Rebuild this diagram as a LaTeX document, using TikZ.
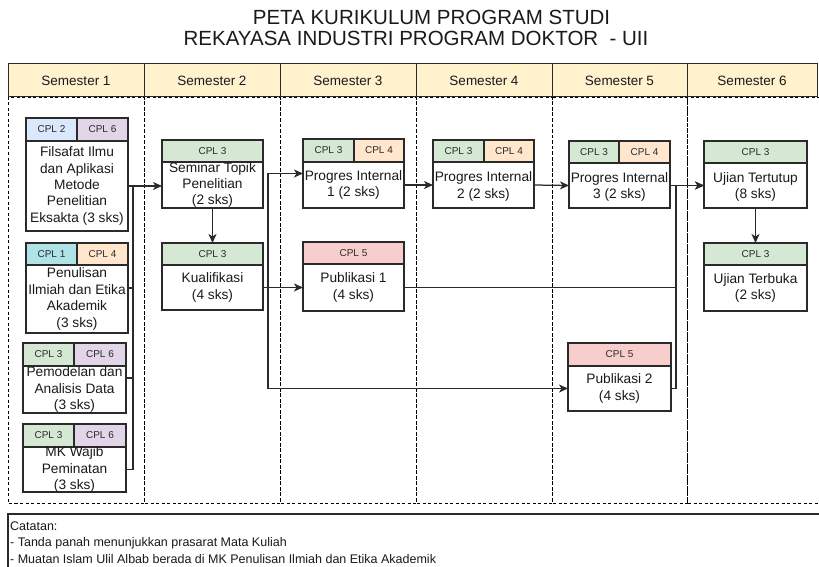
\documentclass[tikz,border=0pt]{standalone}
\usepackage{fontspec}
\setmainfont{Liberation Sans}
\usetikzlibrary{arrows.meta,calc}
\definecolor{hdr}{HTML}{FFF2CC}
\definecolor{cgreen}{HTML}{D5E8D4}
\definecolor{corange}{HTML}{FFE6CC}
\definecolor{cpurple}{HTML}{E1D5E7}
\definecolor{cblue}{HTML}{DAE8FC}
\definecolor{ccyan}{HTML}{B0E3E6}
\definecolor{cpink}{HTML}{F8CECC}
\definecolor{ink}{HTML}{1A1A1A}
\definecolor{edge}{HTML}{2A2A2A}
\tikzset{
  fullbox/.style={inner sep=0pt, outer sep=0pt, draw=none},
  bodybox/.style={inner sep=0pt, outer sep=0pt, draw=edge, line width=1.1pt, fill=white},
  hbox/.style={inner sep=0pt, outer sep=0pt, draw=edge, line width=1.1pt, text=edge,
    font=\fontsize{10}{12}\selectfont},
  btext/.style={inner sep=0pt, align=center, text=ink, font=\fontsize{13.7}{16.4}\selectfont},
  semh/.style={inner sep=0pt, outer sep=0pt, draw=edge, line width=1pt, fill=hdr, text=ink,
    font=\fontsize{13.5}{16}\selectfont},
  colbox/.style={draw=black, line width=0.9pt, dash pattern=on 3pt off 2.5pt},
  conn/.style={draw=edge, line width=1.25pt},
  arr/.style={conn, -{Stealth[length=9pt,width=8pt,inset=2.5pt]}},
  titletext/.style={inner sep=0pt, text=ink, font=\fontsize{20.5}{24}\selectfont},
  notetext/.style={inner sep=0pt, text=ink, font=\fontsize{12.5}{15}\selectfont},
}
% name, x1, x2, ytop, yhead, ybottom
\newcommand{\course}[6]{%
  \pgfmathsetmacro{\cxa}{(#2+#3)/2}%
  \pgfmathsetmacro{\cya}{(#4+#6)/2}%
  \pgfmathsetmacro{\cyb}{(#5+#6)/2}%
  \pgfmathsetmacro{\cww}{#3-#2}%
  \pgfmathsetmacro{\chf}{#6-#4}%
  \pgfmathsetmacro{\chb}{#6-#5}%
  \node[fullbox, minimum width=\cww pt, minimum height=\chf pt] (#1) at (\cxa,\cya) {};
  \node[bodybox, minimum width=\cww pt, minimum height=\chb pt] (#1b) at (\cxa,\cyb) {};
}
% name, x1, x2, ytop, ybottom, colour, label
\newcommand{\hcell}[7]{%
  \pgfmathsetmacro{\hxa}{(#2+#3)/2}%
  \pgfmathsetmacro{\hya}{(#4+#5)/2}%
  \pgfmathsetmacro{\hww}{#3-#2}%
  \pgfmathsetmacro{\hhh}{#5-#4}%
  \node[hbox, fill=#6, minimum width=\hww pt, minimum height=\hhh pt] (#1) at (\hxa,\hya) {#7};
}
\begin{document}
\begin{tikzpicture}[x=1pt,y=-1pt]
\useasboundingbox (0,0) rectangle (819,567);
\fill[white] (0,0) rectangle (819,567);
\clip (0,0) rectangle (819,567);

% title
\node[titletext, anchor=base] (t1) at (431.5,25) {PETA KURIKULUM PROGRAM STUDI};
\node[titletext, anchor=base] (t2) at (416,46) {REKAYASA INDUSTRI PROGRAM DOKTOR\ \ - UII};

% column bodies (dashed)
\draw[colbox] (8,97) rectangle (144,503);
\draw[colbox] (144,97) rectangle (280,503);
\draw[colbox] (280,97) rectangle (416,503);
\draw[colbox] (416,97) rectangle (552,503);
\draw[colbox] (552,97) rectangle (687,503);
\draw[colbox] (687,97) rectangle (826,503);

% semester headers
\node[semh, minimum width=136pt, minimum height=33pt] (s1) at (76,80.5) {Semester 1};
\node[semh, minimum width=136pt, minimum height=33pt] (s2) at (212,80.5) {Semester 2};
\node[semh, minimum width=136pt, minimum height=33pt] (s3) at (348,80.5) {Semester 3};
\node[semh, minimum width=136pt, minimum height=33pt] (s4) at (484,80.5) {Semester 4};
\node[semh, minimum width=135pt, minimum height=33pt] (s5) at (619.5,80.5) {Semester 5};
\node[semh, minimum width=130pt, minimum height=33pt] (s6) at (752,80.5) {Semester 6};

% course boxes
\course{FI}{26}{128}{118}{141}{231}
\hcell{FIh1}{26}{77}{118}{141}{cblue}{CPL 2}
\hcell{FIh2}{77}{128}{118}{141}{cpurple}{CPL 6}

\course{PE}{26}{128}{243}{265}{333}
\hcell{PEh1}{26}{77}{243}{265}{ccyan}{CPL 1}
\hcell{PEh2}{77}{128}{243}{265}{corange}{CPL 4}

\course{PM}{23}{126}{343}{366}{413}
\hcell{PMh1}{23}{74}{343}{366}{cgreen}{CPL 3}
\hcell{PMh2}{74}{126}{343}{366}{cpurple}{CPL 6}

\course{MK}{23}{126}{424}{447}{492}
\hcell{MKh1}{23}{74}{424}{447}{cgreen}{CPL 3}
\hcell{MKh2}{74}{126}{424}{447}{cpurple}{CPL 6}

\course{SE}{162}{263}{140}{162}{208}
\hcell{SEh}{162}{263}{140}{162}{cgreen}{CPL 3}

\course{KU}{162}{263}{243}{265}{310}
\hcell{KUh}{162}{263}{243}{265}{cgreen}{CPL 3}

\course{PIa}{303}{404}{139}{162}{208}
\hcell{PIah1}{303}{354}{139}{162}{cgreen}{CPL 3}
\hcell{PIah2}{354}{404}{139}{162}{corange}{CPL 4}

\course{PUa}{303}{404}{242}{264}{311}
\hcell{PUah}{303}{404}{242}{264}{cpink}{CPL 5}

\course{PIb}{433}{534}{140}{162}{208}
\hcell{PIbh1}{433}{484}{140}{162}{cgreen}{CPL 3}
\hcell{PIbh2}{484}{534}{140}{162}{corange}{CPL 4}

\course{PIc}{569}{670}{141}{163}{208}
\hcell{PIch1}{569}{619}{141}{163}{cgreen}{CPL 3}
\hcell{PIch2}{619}{670}{141}{163}{corange}{CPL 4}

\course{PUb}{568}{671}{343}{366}{411}
\hcell{PUbh}{568}{671}{343}{366}{cpink}{CPL 5}

\course{UT}{704}{807}{141}{163}{208}
\hcell{UTh}{704}{807}{141}{163}{cgreen}{CPL 3}

\course{UB}{704}{807}{243}{265}{311}
\hcell{UBh}{704}{807}{243}{265}{cgreen}{CPL 3}

% course texts
\node[btext] (FIt) at (FIb) {Filsafat Ilmu\\dan Aplikasi\\Metode\\Penelitian\\Eksakta (3 sks)};
\node[btext] (PEt) at (PEb) {Penulisan\\Ilmiah dan Etika\\Akademik\\(3 sks)};
\node[btext] (PMt) at (PMb) {Pemodelan dan\\Analisis Data\\(3 sks)};
\node[btext] (MKt) at (MKb) {MK Wajib\\Peminatan\\(3 sks)};
\node[btext] (SEt) at (SEb) {Seminar Topik\\Penelitian\\(2 sks)};
\node[btext] (KUt) at (KUb) {Kualifikasi\\(4 sks)};
\node[btext] (PIat) at (PIab) {Progres Internal\\1 (2 sks)};
\node[btext] (PUat) at (PUab) {Publikasi 1\\(4 sks)};
\node[btext] (PIbt) at ($(PIbb)+(0,1.5)$) {Progres Internal\\2 (2 sks)};
\node[btext] (PIct) at ($(PIcb)+(0,1.5)$) {Progres Internal\\3 (2 sks)};
\node[btext] (PUbt) at (PUbb) {Publikasi 2\\(4 sks)};
\node[btext] (UTt) at ($(UTb)+(0,1.5)$) {Ujian Tertutup\\(8 sks)};
\node[btext] (UBt) at (UBb) {Ujian Terbuka\\(2 sks)};

% connectors
\coordinate (j1) at ($(FIb.east)+(5,0)$);
\draw[conn] (PE.east) -| (j1);
\draw[conn] (PM.east) -| (j1);
\draw[conn] (MKb.east) -| (j1);
\draw[arr] (FIb.east) -- (FIb.east -| SEb.west);

\draw[arr] (SEb.south) -- (KU.north);

\coordinate (j2) at ($(KUb.east)+(5,0)$);
\draw[arr] (KUb.east) -- (PUab.west);
\draw[arr] (j2) |- (PIa.west);
\draw[arr] (j2) |- (PUbb.west);

\draw[arr] (PIab.east) -- (PIbb.west);
\draw[arr] (PIbb.east) -- (PIcb.west);
\draw[arr] (PIcb.east) -- (UTb.west);

\coordinate (j3) at ($(PUab.east -| PIcb.east)+(6,0)$);
\draw[conn] (PUab.east) -- (j3);
\draw[conn] (PUbb.east) -| (j3);
\draw[arr] (j3) |- (UTb.west);

\draw[arr] (UTb.south) -- (UB.north);

% notes
\draw[edge, line width=1.1pt] (830,514) -- (8,514) -- (8,580);
\node[notetext, anchor=base west] (n1) at (10,530) {Catatan:};
\node[notetext, anchor=base west] (n2) at (10,546.5) {- Tanda panah menunjukkan prasarat Mata Kuliah};
\node[notetext, anchor=base west] (n3) at (10,563) {- Muatan Islam Ulil Albab berada di MK Penulisan Ilmiah dan Etika Akademik};
\end{tikzpicture}
\end{document}
